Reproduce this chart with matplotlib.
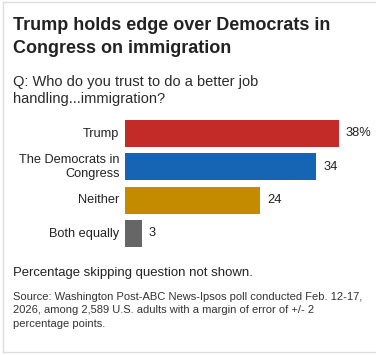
import matplotlib.pyplot as plt
from matplotlib.lines import Line2D

# Dados
categorias = ["Trump", "The Democrats in\nCongress", "Neither", "Both equally"]
valores = [38, 34, 24, 3]
rotulos = ["38%", "34", "24", "3"]
cores = ["#C22B27", "#1565B4", "#C48A00", "#666666"]

W, H = 376, 355
fig = plt.figure(figsize=(W / 100, H / 100), dpi=100)
plt.rcParams["font.family"] = ["Liberation Sans", "DejaVu Sans"]


def px(x, y):
    # pixels (origem no canto superior esquerdo) -> fração da figura
    return x / W, 1 - y / H


# Moldura cinza clara
borda = "#DDDDDD"
fig.add_artist(Line2D([2.5 / W, 2.5 / W], [1 - 2 / H, 1 - 352 / H], color=borda, lw=1))
fig.add_artist(Line2D([2.5 / W, 1], [1 - 2 / H, 1 - 2 / H], color=borda, lw=1))
fig.add_artist(Line2D([2.5 / W, 1], [1 - 352 / H, 1 - 352 / H], color=borda, lw=1))

# Título e pergunta
titulo = ["Trump holds edge over Democrats in", "Congress on immigration"]
for i, linha in enumerate(titulo):
    fig.text(*px(13, 30 + 23 * i), linha, fontsize=13, fontweight="bold",
             color="#222222", va="baseline", ha="left")

pergunta = ["Q: Who do you trust to do a better job", "handling...immigration?"]
for i, linha in enumerate(pergunta):
    fig.text(*px(13, 86 + 17 * i), linha, fontsize=10.5,
             color="#2a2a2a", va="baseline", ha="left")

# Barras
ax = fig.add_axes([125 / W, 1 - 247 / H, 214 / W, 127 / H])
pos = range(len(valores))
ax.barh(pos, valores, height=0.81, color=cores)
ax.set_xlim(0, 38)
ax.set_ylim(3.405, -0.405)
ax.axis("off")

for p, v, r, c in zip(pos, valores, rotulos, categorias):
    ax.annotate(r, (v, p), xytext=(5, 0), textcoords="offset points",
                va="center", ha="left", fontsize=9.3, color="#222222",
                annotation_clip=False)
    ax.annotate(c, (0, p), xytext=(-4, 0), textcoords="offset points",
                va="center", ha="right", ma="right", fontsize=9.2,
                color="#222222", linespacing=1.15, annotation_clip=False)

# Notas
fig.text(*px(13, 276), "Percentage skipping question not shown.", fontsize=9.45,
         color="#222222", va="baseline", ha="left")

fonte = ["Source: Washington Post-ABC News-Ipsos poll conducted Feb. 12-17,",
         "2026, among 2,589 U.S. adults with a margin of error of +/- 2",
         "percentage points."]
for i, linha in enumerate(fonte):
    fig.text(*px(13, 300 + 13.4 * i), linha, fontsize=7.98,
             color="#333333", va="baseline", ha="left")

fig.savefig("out.png", dpi=100, facecolor="white")
plt.close()
